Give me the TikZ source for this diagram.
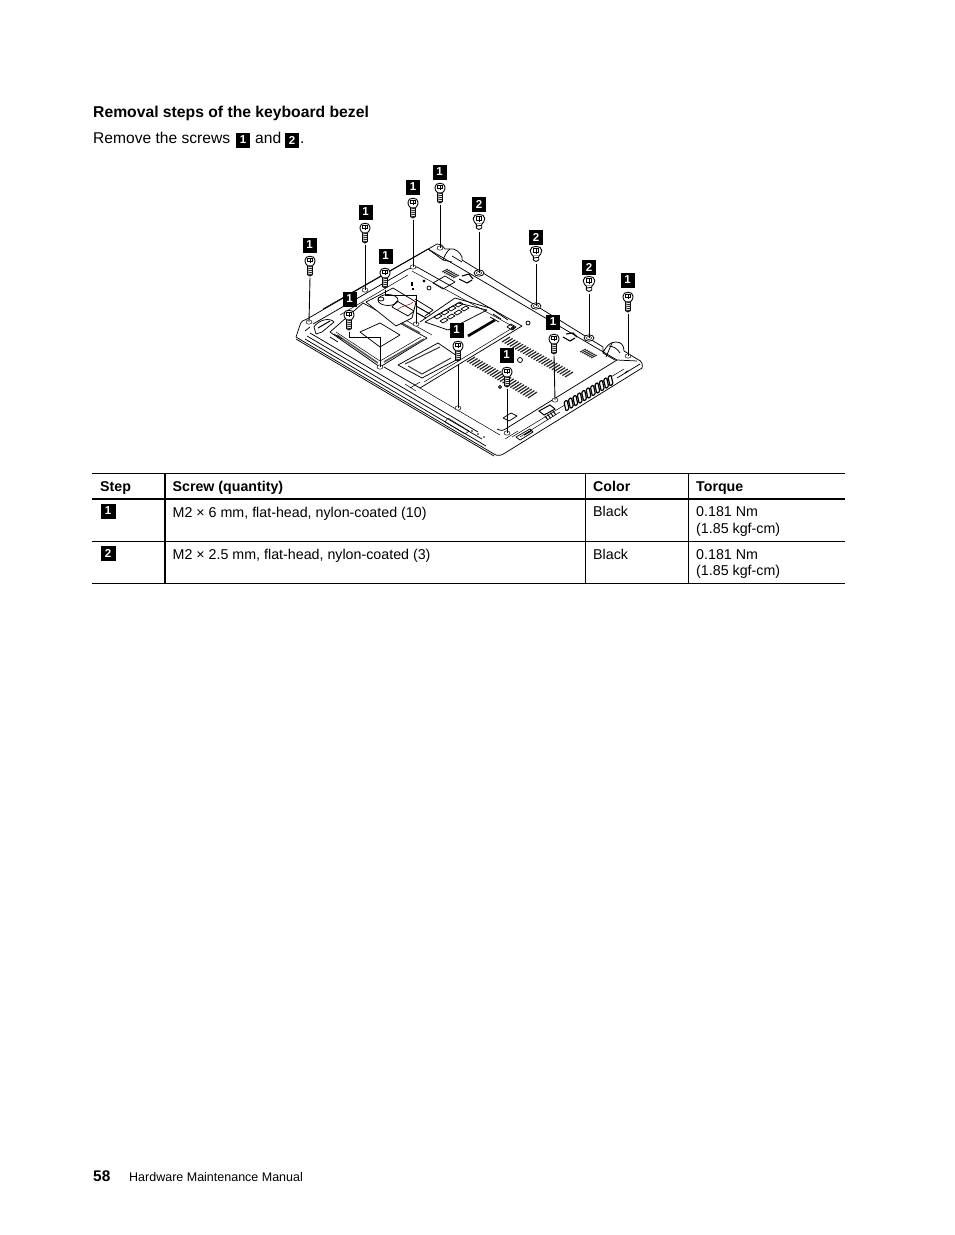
\documentclass[tikz,border=0pt]{standalone}
\usepackage{fontspec}
\setmainfont{Liberation Sans}
\usetikzlibrary{calc}
\tikzset
{
	x=1pt, y=-1pt,
	badge/.style={fill=black, text=white, inner sep=0pt, minimum width=14pt, minimum height=15pt, font=\fontsize{11.5}{11.5}\selectfont\bfseries},
	leader/.style={line width=0.9pt},
	body/.style={line width=0.75pt, line join=round},
	thin line/.style={line width=0.5pt, line join=round},
	vent/.style={line width=1.2pt, black!85},
	rulethin/.style={line width=0.9pt},
	rulethick/.style={line width=1.8pt},
	cell/.style={anchor=base west, inner sep=0pt, font=\fontsize{14.25}{14.25}\selectfont},
	cellbold/.style={anchor=base west, inner sep=0pt, font=\fontsize{14.2}{14.2}\selectfont\bfseries},
	longscrew/.style={inner sep=0pt, minimum width=10pt, minimum height=19pt,
		append after command={(\tikzlastnode.center) pic {longscrewpic}}},
	shortscrew/.style={inner sep=0pt, minimum width=11pt, minimum height=15pt,
		append after command={(\tikzlastnode.center) pic {shortscrewpic}}},
	pics/longscrewpic/.style={code={
		\draw[line width=0.9pt, fill=white] (-5,-6) .. controls (-5.4,-11) and (5.4,-11) .. (5,-6)
			.. controls (5.2,-2.5) and (3,-1) .. (2.7,-0.5) -- (-2.7,-0.5) .. controls (-3,-1) and (-5.2,-2.5) .. (-5,-6) -- cycle;
		\draw[line width=0.8pt] (-2.4,-7.5) rectangle (2.4,-4.5) (0,-8.5) -- (0,-3);
		\draw[line width=0.9pt, fill=white] (-2.5,-0.5) -- (-2.5,8.5) -- (0,10) -- (2.5,8.5) -- (2.5,-0.5);
		\foreach \k in {1,3,5,7,9}
			\draw[line width=0.9pt, black!85] (-2.5,\k) -- (2.5,\k-0.8);
	}},
	pics/shortscrewpic/.style={code={
		\draw[line width=0.9pt, fill=white] (-5.8,-3.5) .. controls (-6.2,-9) and (6.2,-9) .. (5.8,-3.5)
			.. controls (5.8,-0.5) and (3.8,1) .. (3,2) -- (-3,2) .. controls (-3.8,1) and (-5.8,-0.5) .. (-5.8,-3.5) -- cycle;
		\draw[line width=0.8pt] (-2.6,-5.2) rectangle (2.6,-2) (0,-6.5) -- (0,-0.5);
		\draw[line width=0.9pt, fill=white] (-2.7,2) -- (-2.7,6) -- (0,7.5) -- (2.7,6) -- (2.7,2);
		\draw[line width=0.9pt] (-2.7,4) -- (2.7,3.4);
	}},
}
\newcommand{\ventband}[4]
{
	\foreach \t in {0,...,24}
		\draw[vent] ($#1!\t/24!#2$) -- ($#3!\t/24!#4$);
}
\begin{document}
\begin{tikzpicture}
{
	\useasboundingbox (0,0) rectangle (954,1235);
	\fill[white] (0,0) rectangle (954,1235);

	% page text
	\node[cellbold, font=\fontsize{15.7}{15.7}\selectfont\bfseries] (Title) at (93,117) {Removal steps of the keyboard bezel};
	\node[cell, font=\fontsize{15.6}{15.6}\selectfont] (Intro) at (93,143) {Remove the screws};
	\node[badge] (IntroOne) at (243,140) {1};
	\node[cell, font=\fontsize{15.6}{15.6}\selectfont] (IntroAnd) at (255,143) {and};
	\node[badge] (IntroTwo) at (292,140) {2};
	\node[cell, font=\fontsize{15.6}{15.6}\selectfont] (IntroDot) at (300,143) {.};

	% laptop outline
	\draw[body] (296,337) -- (300,325) .. controls (301,321) and (304,320) .. (307,319) -- (437,244)
		.. controls (440,243) and (442,245) .. (445,249) -- (450,249) .. controls (455,248) and (460,252) .. (462,257)
		-- (462,260) -- (603,347) -- (603,353) .. controls (606,346) and (610,342) .. (616,342)
		.. controls (621,342) and (624,345) .. (624,351) -- (637,359)
		.. controls (642,361) and (643,364) .. (642,368) -- (505,453) .. controls (501,456) and (497,456) .. (494,454) -- cycle;
	\draw[body] (296,339) -- (494,456);
	\draw[body] (305,331) -- (310,327) (310,333) -- (478,432) (305,339) -- (486,446);
	\draw[body] (307,336) -- (482,439);
	\draw[body] (323,309) -- (428,249) -- (443,260);
	\draw[body] (313,324) -- (408,269) -- (417,267);
	\draw[body] (428,249) -- (617,360) -- (507,428) .. controls (503,431) and (501,431) .. (497,429);
	\draw[body] (443,260) .. controls (445,255) and (447,251) .. (450,249) (443,260) -- (452,262) (462,262) -- (452,256);
	\draw[body] (603,353) -- (615,360) (609,346) .. controls (613,346) and (618,349) .. (620,353) (612,343) -- (606,357);
	\draw[body] (617,360) -- (637,361) (640,364) -- (617,378);
	\draw[thin line] (512,437) -- (624,369);
	\draw[thin line] (520,437) -- (560,412) (505,439) -- (518,431);

	% panel outlines
	\draw[body] (417,267) -- (522,326) -- (420,388) -- (384,367);
	\draw[thin line] (412,271) -- (514,327) -- (424,382);
	\draw[thin line] (420,388) -- (500,435);
	\draw[thin line] (340,315) -- (408,275);

	% hard disk door
	\draw[body] (363,303) -- (330,332) -- (380,367) -- (427,338) -- cycle;
	\draw[thin line] (370,300) -- (432,335);
	\draw[thin line] (336,332) -- (380,361) -- (421,337);
	\draw[line width=1.6pt, black!65] (337,335) -- (378,363) (384,362) -- (424,339) (370,306) -- (420,333);
	\draw[body] (360,332) -- (380,323) -- (400,335) -- (380,347) -- cycle;
	\draw[body] (314,327) .. controls (318,320) and (330,317) .. (334,322) -- (322,332) -- (316,334) -- cycle;
	\draw[line width=1pt] (318,328) -- (330,321);
	\draw[body] (330,337) -- (338,342) (334,334) -- (342,339);

	% wireless door
	\draw[body] (398,365) -- (438,343) -- (460,358) -- (422,378) -- cycle;
	\draw[line width=1pt, black!80] (405,364) -- (440,347) (408,366) -- (422,374) -- (451,358);
	\draw[thin line] (410,388) -- (420,382) (405,384) -- (416,391);

	% battery and board
	\draw[body, fill=white] (366,302) -- (393,288) -- (416,302) -- (412,318) -- (396,326) -- cycle;
	\draw[body, fill=white] (388,300) ellipse [x radius=10pt, y radius=5.5pt];
	\draw[body] (381,299) ellipse [x radius=3pt, y radius=2pt];
	\draw[body] (397,301) -- (414,311) -- (408,316) -- (392,307) -- cycle;
	\draw[red!60!black, thin line] (397,310) .. controls (404,304) and (410,306) .. (413,302);
	\draw[line width=1pt] (416,306) -- (430,314) (417,313) -- (426,318);
	\draw[body] (415,299) -- (433,310) -- (425,316);
	\draw[line width=1.4pt] (412,282) -- (412,286) (412,289) -- (414,289);

	% memory
	\draw[body] (425,322) -- (458,303) -- (487,310) -- (448,330) -- cycle;
	\draw[body] (420,322) -- (455,298) -- (490,308) -- (508,320);
	\foreach \p in {0,1,2,3}
		\draw[body] ($(434,317)+(\p*7,-\p*4)$) -- ++(5,-3) -- ++(3,2) -- ++(-5,3) -- cycle;
	\foreach \p in {0,1,2,3}
		\draw[body] ($(440,321)+(\p*7,-\p*4)$) -- ++(5,-3) -- ++(3,2) -- ++(-5,3) -- cycle;
	\draw[line width=2.6pt] (468,336) -- (495,320);
	\draw[line width=0.8pt] (490,317) -- (499,322) (493,314) -- (501,319);
	\draw[body] (507,327) -- (512,330) -- (516,327) -- (511,324) -- cycle;

	% small parts on the panel
	\draw[body] (433,283) -- (445,276) -- (455,282) -- (443,289) -- cycle;
	\draw[body] (429,288) circle (2pt) (424,281) circle (1pt) (513,328) circle (1.5pt) (528,323) circle (2pt) (520,360) circle (2.5pt);
	\draw[line width=1.1pt] (459,279) -- (467,283) -- (472,280) (462,276) -- (469,274) -- (473,279);
	\draw[line width=1.1pt] (563,337) -- (570,341) -- (575,338) (566,334) -- (573,333) -- (577,337);
	\draw[body] (503,418) -- (511,413) -- (517,416) -- (509,421) -- cycle;
	\draw[body] (500,387) circle (1.5pt);

	% vents
	\coordinate (VentAa) at (475,357);
	\coordinate (VentAb) at (537,392);
	\coordinate (VentAc) at (467,362);
	\coordinate (VentAd) at (528,398);
	\ventband{(VentAa)}{(VentAb)}{(VentAc)}{(VentAd)}
	\coordinate (VentBa) at (510,337);
	\coordinate (VentBb) at (573,372);
	\coordinate (VentBc) at (502,342);
	\coordinate (VentBd) at (565,377);
	\ventband{(VentBa)}{(VentBb)}{(VentBc)}{(VentBd)}
	\foreach \t in {0,...,6}
	{
		\draw[vent, line width=1pt] ($(586,349)!\t/6!(597,355)$) -- ($(580,352)!\t/6!(591,358)$);
		\draw[vent, line width=1pt] ($(448,269)!\t/6!(459,275)$) -- ($(442,272)!\t/6!(453,278)$);
	}

	% side grille and ports
	\foreach \t in {0,...,10}
		\draw[line width=1.2pt, fill=white, rounded corners=1pt] ($(564,402)!\t/10!(608,377)$) -- ++(3,-2) -- ++(2,9) -- ++(-3,2) -- cycle;
	\draw[line width=1pt, fill=white] (539,411) -- (550,405) -- (555,409) -- (544,415) -- cycle;
	\foreach \t in {0,...,3}
		\draw[line width=1pt] ($(545,416)!\t/3!(553,411)$) -- ++(3,4);
	\draw[body] (516,437) -- (530,429) -- (533,432) -- (520,440) -- cycle;
	\draw[line width=1.2pt] (524,435) -- (531,431);
	\draw[line width=1pt] (625,373) -- (628,371);
	\draw[thin line] (448,418) -- (469,431) -- (465,434) -- (445,422) -- cycle;
	\fill (472,431) circle (0.8pt) (478,434) circle (0.8pt) (484,437) circle (0.8pt);

	% holes
	\coordinate (HoleA) at (440,248);
	\coordinate (HoleB) at (413,267);
	\coordinate (HoleC) at (365,290);
	\coordinate (HoleD) at (309,322);
	\coordinate (HoleE) at (416,324);
	\coordinate (HoleF) at (380,367);
	\coordinate (HoleG) at (458,408);
	\coordinate (HoleH) at (507,433);
	\coordinate (HoleI) at (555,400);
	\coordinate (HoleJ) at (628,356);
	\coordinate (HoleK) at (479,273);
	\coordinate (HoleL) at (536,306);
	\coordinate (HoleM) at (589,338);
	\foreach \h in {HoleA,HoleB,HoleC,HoleD,HoleE,HoleF,HoleG,HoleH,HoleI,HoleJ}
		\draw[thin line, fill=white] (\h) ellipse [x radius=3pt, y radius=2.2pt];
	\foreach \h in {HoleK,HoleL,HoleM}
	{
		\draw[body, fill=white] (\h) ellipse [x radius=5pt, y radius=3.2pt];
		\draw[thin line] (\h) ellipse [x radius=2.6pt, y radius=1.6pt];
	}

	% screws with their labels
	\node[badge] (BadgeA) at (439.5,172) {1};
	\node[badge] (BadgeB) at (413,187) {1};
	\node[badge] (BadgeC) at (365.5,212) {1};
	\node[badge] (BadgeD) at (309.5,245) {1};
	\node[badge] (BadgeE) at (385.5,256) {1};
	\node[badge] (BadgeF) at (349.5,299) {1};
	\node[badge] (BadgeG) at (456.5,330) {1};
	\node[badge] (BadgeH) at (506.5,355) {1};
	\node[badge] (BadgeI) at (553,322) {1};
	\node[badge] (BadgeJ) at (627.5,280) {1};
	\node[badge] (BadgeK) at (479,204) {2};
	\node[badge] (BadgeL) at (536,237) {2};
	\node[badge] (BadgeM) at (589,267) {2};
	\node[longscrew] (ScrewA) at (440,193) {};
	\node[longscrew] (ScrewB) at (413,208) {};
	\node[longscrew] (ScrewC) at (365,233) {};
	\node[longscrew] (ScrewD) at (310,266) {};
	\node[longscrew] (ScrewE) at (385,278) {};
	\node[longscrew] (ScrewF) at (349,320) {};
	\node[longscrew] (ScrewG) at (458,351) {};
	\node[longscrew] (ScrewH) at (507,377) {};
	\node[longscrew] (ScrewI) at (554,344) {};
	\node[longscrew] (ScrewJ) at (628,302) {};
	\node[shortscrew] (ScrewK) at (479,222) {};
	\node[shortscrew] (ScrewL) at (536,254) {};
	\node[shortscrew] (ScrewM) at (589,284) {};

	% leaders
	\draw[leader] (ScrewA.south) ++(0,2) -- (HoleA);
	\draw[leader] (ScrewB.south) ++(0,2) -- (HoleB);
	\draw[leader] (ScrewC.south) ++(0,2) -- (HoleC);
	\draw[leader] (ScrewD.south) ++(0,2) -- (HoleD);
	\draw[leader] (ScrewE.south) ++(0,2) -- ++(0,6) -| (HoleE);
	\draw[leader] (ScrewF.south) ++(0,2) -- ++(0,6) -| (HoleF);
	\draw[leader] (ScrewG.south) ++(0,3) -- (HoleG);
	\draw[leader] (ScrewH.south) ++(0,2) -- (HoleH);
	\draw[leader] (ScrewI.south) ++(0,2) -- (HoleI);
	\draw[leader] (ScrewJ.south) ++(0,2) -- (HoleJ);
	\draw[leader] (ScrewK.south) ++(0,2) -- (HoleK);
	\draw[leader] (ScrewL.south) ++(0,2) -- (HoleL);
	\draw[leader] (ScrewM.south) ++(0,2) -- (HoleM);

	% table
	\coordinate (TopLeft) at (92,473.5);
	\coordinate (TopRight) at (845,473.5);
	\coordinate (HeadLeft) at (92,499);
	\coordinate (HeadRight) at (845,499);
	\coordinate (MidLeft) at (92,541.5);
	\coordinate (MidRight) at (845,541.5);
	\coordinate (LowLeft) at (92,583.5);
	\coordinate (LowRight) at (845,583.5);
	\draw[rulethin] (TopLeft) -- (TopRight);
	\draw[rulethick] (HeadLeft) -- (HeadRight);
	\draw[rulethin] (MidLeft) -- (MidRight);
	\draw[rulethin] (LowLeft) -- (LowRight);
	\foreach \c in {585.5,688.5}
		\draw[rulethin] (\c,473.5) -- (\c,583.5);
	\draw[rulethick] (165,473.5) -- (165,583.5);

	\node[cellbold] (HeadStep) at (100,491) {Step};
	\node[cellbold] (HeadScrew) at (172.5,491) {Screw (quantity)};
	\node[cellbold] (HeadColor) at (593,491) {Color};
	\node[cellbold] (HeadTorque) at (696,491) {Torque};
	\node[badge, minimum width=15pt] (StepOne) at (108,511) {1};
	\node[cell] (ScrewOne) at (172.5,517) {M2 × 6 mm, flat-head, nylon-coated (10)};
	\node[cell] (ColorOne) at (593,516) {Black};
	\node[cell] (TorqueOne) at (696,516) {0.181 Nm};
	\node[cell] (KgfOne) at (696,533) {(1.85 kgf-cm)};
	\node[badge, minimum width=15pt] (StepTwo) at (108,553) {2};
	\node[cell] (ScrewTwo) at (172.5,559) {M2 × 2.5 mm, flat-head, nylon-coated (3)};
	\node[cell] (ColorTwo) at (593,559) {Black};
	\node[cell] (TorqueTwo) at (696,559) {0.181 Nm};
	\node[cell] (KgfTwo) at (696,575) {(1.85 kgf-cm)};

	% footer
	\node[cellbold, font=\fontsize{15.4}{15.4}\selectfont\bfseries] (PageNumber) at (93,1181.5) {58};
	\node[cell, font=\fontsize{12.5}{12.5}\selectfont] (PageTitle) at (129,1181.5) {Hardware Maintenance Manual};
}
\end{tikzpicture}
\end{document}
